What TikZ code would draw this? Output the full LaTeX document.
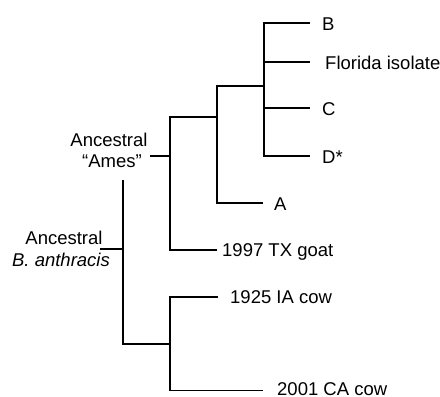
\documentclass[tikz,border=0pt]{standalone}
\usepackage{fontspec}
\setmainfont{Liberation Sans}
\begin{document}
\begin{tikzpicture}[x=1pt,y=-1pt,
  br/.style={line width=1.7pt},
  lab/.style={anchor=base west, inner sep=0pt, font=\fontsize{18.5}{22}\selectfont},
  clab/.style={anchor=base, inner sep=0pt, font=\fontsize{18.5}{22}\selectfont}]
\useasboundingbox (0,0) rectangle (440,397);
% labels
\node[lab] (tB) at (322,30) {B};
\node[lab] (tF) at (325,69) {Florida isolate};
\node[lab] (tC) at (322,115) {C};
\node[lab] (tD) at (322,163) {D*};
\node[lab] (tA) at (274,210) {A};
\node[lab] (tG) at (222,256) {1997 TX goat};
\node[lab] (tIA) at (230,303) {1925 IA cow};
\node[lab] (tCA) at (277,395.5) {2001 CA cow};
\node[clab] (ames1) at (109,146) {Ancestral};
\node[clab] (ames2) at (112,167) {“Ames”};
\node[clab] (anc1) at (64,244) {Ancestral};
\node[clab] (anc2) at (61,266) {\itshape B. anthracis};
% tree points
\coordinate (a0) at (150,156);
\coordinate (n1) at (170,156);
\coordinate (n2) at (217,117);
\coordinate (n3) at (264,86);
\coordinate (lB) at (310,23);
\coordinate (lF) at (310,62);
\coordinate (lC) at (310,108);
\coordinate (lD) at (310,156);
\coordinate (lA) at (263,203);
\coordinate (lG) at (217,250);
\coordinate (r0) at (100,249);
\coordinate (r1) at (123,249);
\coordinate (rtop) at (123,180);
\coordinate (c1) at (170,344);
\coordinate (lIA) at (218,297);
\coordinate (lCA) at (263,390.5);
% branches
\draw[br] (a0) -- (n1);
\draw[br] (n1) |- (n2);
\draw[br] (n1) |- (lG);
\draw[br] (n2) |- (n3);
\draw[br] (n2) |- (lA);
\draw[br] (n3) |- (lB);
\draw[br] (n3) |- (lF);
\draw[br] (n3) |- (lC);
\draw[br] (n3) |- (lD);
\draw[br] (r0) -- (r1);
\draw[br] (rtop) |- (c1);
\draw[br] (c1) |- (lIA);
\draw[br] (c1) |- (lCA);
\end{tikzpicture}
\end{document}
